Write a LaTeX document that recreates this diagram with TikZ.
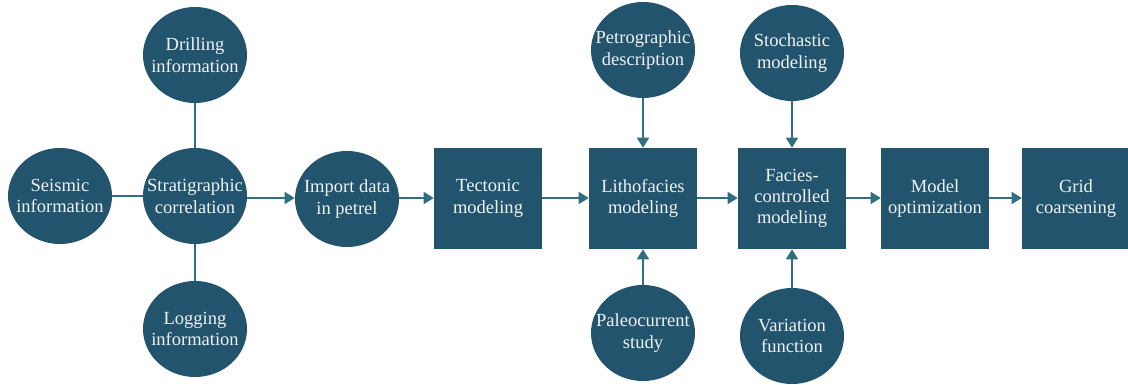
\documentclass[tikz,border=0pt]{standalone}
\usepackage{fontspec}
\setmainfont{Liberation Serif}
\usetikzlibrary{shapes.geometric,arrows.meta}
\definecolor{nodefill}{HTML}{22546E}
\definecolor{linecol}{HTML}{2F6F80}
\definecolor{txt}{HTML}{EEF2F4}
\tikzset{
  x=0.75pt,y=-0.75pt,
  base/.style={fill=nodefill,draw=none,text=txt,align=center,inner sep=0pt,
    font=\fontsize{13.9}{16}\selectfont},
  oval/.style={base,ellipse,inner sep=-20pt,minimum width=78pt,minimum height=72pt},
  box/.style={base,rectangle,minimum width=81pt,minimum height=75.75pt},
  conn/.style={draw=linecol,line width=1.1pt},
  arr/.style={conn,-{Triangle[length=7.5pt,width=9pt]}}
}
\begin{document}
\begin{tikzpicture}
\useasboundingbox (0,0) rectangle (1128,385);
\node[oval] (drill) at (195,55) {Drilling\\information};
\node[oval] (seis) at (60,196) {Seismic\\information};
\node[oval] (strat) at (195,196) {Stratigraphic\\correlation};
\node[oval] (log) at (195,329) {Logging\\information};
\node[oval] (imp) at (347,199) {Import data\\in petrel};
\node[box] (tect) at (488,198.5) {Tectonic\\modeling};
\node[box] (litho) at (643,198.5) {Lithofacies\\modeling};
\node[oval] (petro) at (643,50) {Petrographic\\description};
\node[oval] (paleo) at (643,333) {Paleocurrent\\study};
\node[box] (facies) at (792,198.5) {Facies-\\controlled\\modeling};
\node[oval] (stoch) at (792,53) {Stochastic\\modeling};
\node[oval] (vari) at (792,336) {Variation\\function};
\node[box] (model) at (935,198.5) {Model\\optimization};
\node[box] (grid) at (1076,198.5) {Grid\\coarsening};

\draw[conn] (drill) -- (strat);
\draw[conn] (seis) -- (strat);
\draw[conn] (log) -- (strat);
\draw[arr] (strat.east |- 0,198) -- (imp.west |- 0,198);
\draw[arr] (imp.east |- 0,198) -- (tect.west |- 0,198);
\draw[arr] (tect.east |- 0,198) -- (litho.west |- 0,198);
\draw[arr] (petro) -- (litho);
\draw[arr] (paleo) -- (litho);
\draw[arr] (litho.east |- 0,198) -- (facies.west |- 0,198);
\draw[arr] (stoch) -- (facies);
\draw[arr] (vari) -- (facies);
\draw[arr] (facies.east |- 0,198) -- (model.west |- 0,198);
\draw[arr] (model.east |- 0,198) -- (grid.west |- 0,198);
\end{tikzpicture}
\end{document}
